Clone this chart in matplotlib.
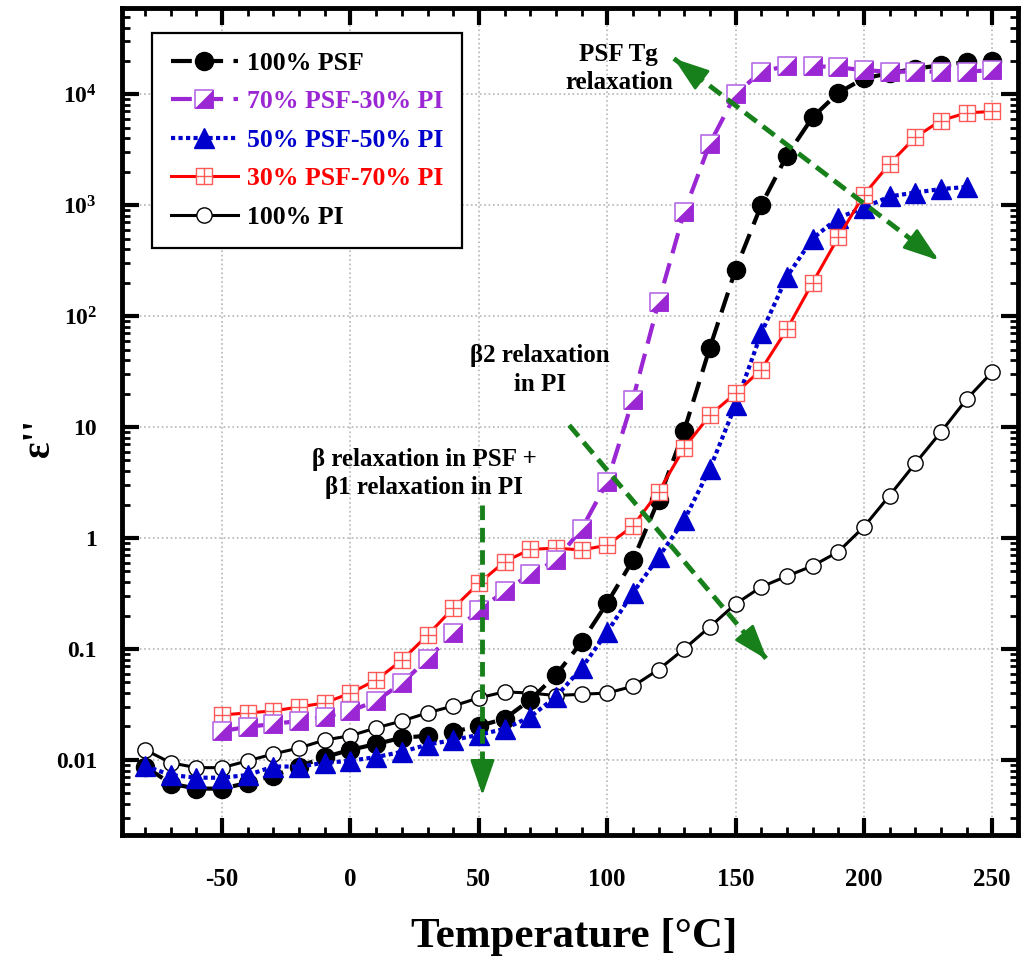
import numpy as np
import matplotlib
matplotlib.use("Agg")
import matplotlib.pyplot as plt
from matplotlib.path import Path
from matplotlib.ticker import LogLocator, MultipleLocator, NullFormatter

plt.rcParams['font.family'] = ['Liberation Serif', 'DejaVu Serif']
plt.rcParams['font.weight'] = 'bold'
plt.rcParams['mathtext.fontset'] = 'custom'
plt.rcParams['mathtext.rm'] = 'Liberation Serif:bold'
plt.rcParams['mathtext.bf'] = 'Liberation Serif:bold'
plt.rcParams['mathtext.it'] = 'Liberation Serif:bold:italic'

# temperatures (°C)
temp_full = np.arange(-80, 251, 10)
temp_from_m50 = np.arange(-50, 251, 10)
temp_blue = np.arange(-80, 241, 10)

# dielectric loss values
psf100 = [0.0087, 0.0061, 0.0055, 0.0055, 0.0062, 0.0072, 0.0087, 0.0106, 0.0123, 0.0139,
          0.0158, 0.0165, 0.0179, 0.0202, 0.0234, 0.0347, 0.058, 0.115, 0.26, 0.63,
          2.2, 9.3, 52, 262, 1000, 2800, 6200, 10300, 13900, 15500,
          17000, 18300, 19500, 20000]
psf70 = [0.0182, 0.0198, 0.0211, 0.0224, 0.0244, 0.0276, 0.034, 0.049, 0.081, 0.139,
         0.224, 0.33, 0.47, 0.63, 1.2, 3.2, 17.7, 133, 870, 3600,
         10000, 16000, 18000, 18000, 17500, 16500, 16000, 16000, 16000, 16000, 16500]
psf50 = [0.0088, 0.0073, 0.0069, 0.0069, 0.0073, 0.0087, 0.0087, 0.0094, 0.0098, 0.0106,
         0.0118, 0.0137, 0.0151, 0.0168, 0.019, 0.0244, 0.037, 0.067, 0.142, 0.32,
         0.67, 1.45, 4.2, 15.8, 70, 226, 500, 770, 950, 1200, 1300, 1400, 1460]
psf30 = [0.0254, 0.0265, 0.0276, 0.030, 0.0326, 0.040, 0.0525, 0.079, 0.133, 0.233,
         0.39, 0.61, 0.79, 0.81, 0.78, 0.86, 1.28, 2.6, 6.5, 12.8,
         20.1, 33, 76, 200, 512, 1240, 2360, 4100, 5800, 6800, 7000]
pi100 = [0.0123, 0.0094, 0.0085, 0.0085, 0.0098, 0.0113, 0.0128, 0.0151, 0.0165, 0.0194,
         0.0224, 0.0265, 0.0306, 0.0362, 0.041, 0.040, 0.038, 0.039, 0.040, 0.046,
         0.065, 0.1, 0.158, 0.254, 0.362, 0.453, 0.56, 0.75, 1.26, 2.41,
         4.7, 9.0, 17.8, 31.4]

labels = ['100% PSF', '70% PSF-30% PI', '50% PSF-50% PI', '30% PSF-70% PI', '100% PI']
purple = '#9a26d4'
blue = '#0000cd'
red = '#ff0000'
green = '#17801a'

# custom markers
sq_path = Path([(-1, -1), (1, -1), (1, 1), (-1, 1), (-1, -1)],
               [Path.MOVETO, Path.LINETO, Path.LINETO, Path.LINETO, Path.CLOSEPOLY])
tri_path = Path([(1, -1), (1, 1), (-1, -1), (1, -1)],
                [Path.MOVETO, Path.LINETO, Path.LINETO, Path.CLOSEPOLY])
grid_path = Path([(-1, -1), (1, -1), (1, 1), (-1, 1), (-1, -1),
                  (0, -1), (0, 1), (-1, 0), (1, 0)],
                 [Path.MOVETO, Path.LINETO, Path.LINETO, Path.LINETO, Path.CLOSEPOLY,
                  Path.MOVETO, Path.LINETO, Path.MOVETO, Path.LINETO])

fig = plt.figure(figsize=(10.23, 9.61), dpi=100)
ax = fig.add_axes([0.1193, 0.1311, 0.8757, 0.8606])

l1, = ax.plot(temp_full, psf100, color='k', ls=(0, (5, 2.5)), lw=3,
              marker='o', ms=13, mfc='k', mec='k', zorder=4)
l2, = ax.plot(temp_from_m50, psf70, color=purple, ls=(0, (5, 2.5)), lw=3,
              marker=sq_path, ms=13, mfc='white', mec='#b56ae6', mew=1.2, zorder=5)
l2b, = ax.plot(temp_from_m50, psf70, ls='none', marker=tri_path, ms=13,
               mfc=purple, mec=purple, mew=0.5, zorder=5)
l3, = ax.plot(temp_blue, psf50, color=blue, ls=(0, (1, 0.8)), lw=3,
              marker='^', ms=14, mfc=blue, mec=blue, zorder=4)
l4, = ax.plot(temp_from_m50, psf30, color=red, ls='-', lw=2.2,
              marker=grid_path, ms=11, mfc='white', mec='#ff5a5a', mew=1.0, zorder=4)
l5, = ax.plot(temp_full, pi100, color='k', ls='-', lw=2.2,
              marker='o', ms=11, mfc='white', mec='k', mew=1.0, zorder=3)

ax.set_xlim(-89, 260)
ax.set_yscale('log')
ax.set_ylim(2.1e-3, 6e4)

ax.xaxis.set_minor_locator(MultipleLocator(10))
ax.set_xticks([-50, 0, 50, 100, 150, 200, 250])
ax.set_xticklabels(['-50', '0', '50', '100', '150', '200', '250'])
ax.set_yticks([1e-2, 1e-1, 1, 10, 1e2, 1e3, 1e4])
ax.set_yticklabels(['0.01', '0.1', '1', '10', r'$10^{2}$', r'$10^{3}$', r'$10^{4}$'])
ax.yaxis.set_minor_locator(LogLocator(base=10, subs=np.arange(2, 10), numticks=20))
ax.yaxis.set_minor_formatter(NullFormatter())

ax.tick_params(which='major', direction='in', length=12, width=3,
               top=True, right=True)
ax.tick_params(which='minor', direction='in', length=6, width=2,
               top=True, right=True)
ax.tick_params(axis='x', which='major', pad=24, labelsize=18)
ax.tick_params(axis='y', which='major', pad=18, labelsize=17)
for lab in ax.get_xticklabels() + ax.get_yticklabels():
    lab.set_fontweight('bold')

for sp in ax.spines.values():
    sp.set_linewidth(3.5)

ax.grid(True, which='major', ls=':', color='#b5b5b5', lw=1.2)

fig.text(0.561, 0.025, 'Temperature [°C]', ha='center', va='center',
         fontsize=31, fontweight='bold')
fig.text(0.039, 0.544, "ε''", ha='center', va='center', rotation=90,
         fontsize=28, fontweight='bold')

# legend
leg = ax.legend([l1, (l2, l2b), l3, l4, l5], labels, loc='upper left',
                bbox_to_anchor=(0.033, 0.97), borderaxespad=0, fontsize=18.5,
                handlelength=2.6, labelspacing=0.6, borderpad=0.75,
                handletextpad=0.35, fancybox=False, edgecolor='k', framealpha=1)
leg.get_frame().set_linewidth(1.6)
for txt, c in zip(leg.get_texts(), ['k', purple, blue, red, 'k']):
    txt.set_color(c)
    txt.set_fontweight('bold')

# annotations
ax.text(28.8, 3.8, 'β relaxation in PSF +\nβ1 relaxation in PI', ha='center',
        va='center', fontsize=18, fontweight='bold', linespacing=1.3)
ax.text(73.9, 32.6, 'β2 relaxation\nin PI', ha='center', va='center',
        fontsize=18, fontweight='bold', linespacing=1.3)
ax.text(104.5, 1.71e4, 'PSF Tg\nrelaxation', ha='center', va='center',
        fontsize=18, fontweight='bold', linespacing=1.3)


def green_arrow(x0, y0, x1, y1, both=False):
    ax.plot([x0, x1], [y0, y1], color=green, ls=(0, (3, 1.6)), lw=3.5, zorder=6)
    ends = [((x0, y0), (x1, y1))]
    if both:
        ends.append(((x1, y1), (x0, y0)))
    for (a, b) in ends:
        pa = ax.transData.transform(a)
        pb = ax.transData.transform(b)
        d = (pb - pa) / np.hypot(*(pb - pa))
        start = ax.transData.inverted().transform(pb - d * 20)
        ax.annotate('', xy=b, xytext=start, zorder=7,
                    arrowprops=dict(arrowstyle='-|>,head_length=1.1,head_width=0.38',
                                    color=green, lw=2, shrinkA=0, shrinkB=0,
                                    mutation_scale=20))


green_arrow(51.4, 1.98, 51.4, 0.0048)
green_arrow(85.2, 10.4, 162.3, 0.08)
green_arrow(126, 2.1e4, 229, 320, both=True)

fig.savefig('out.png', dpi=100)
